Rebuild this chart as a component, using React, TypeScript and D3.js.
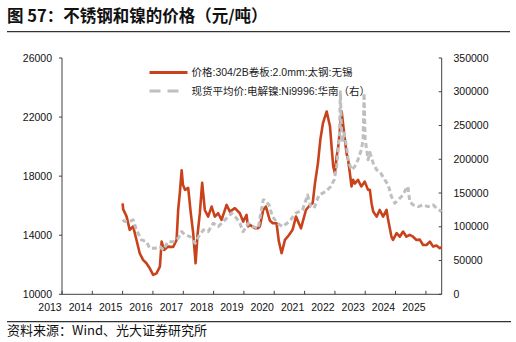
import React from "react";
import * as d3 from "d3";

// ---- data ----
const steelDates = [
  "2015-01-01","2015-01-08","2015-01-30","2015-02-18","2015-03-28","2015-05-08","2015-06-17","2015-07-26",
  "2015-09-04","2015-10-15","2015-11-24","2016-01-04","2016-02-13","2016-03-25","2016-04-15","2016-05-15",
  "2016-07-01","2016-09-01","2016-10-12","2016-10-31","2016-11-20","2016-12-12","2016-12-28","2017-01-23",
  "2017-03-01","2017-04-01","2017-04-30","2017-05-29","2017-06-21","2017-07-19","2017-08-16","2017-09-17",
  "2017-10-27","2017-12-08","2018-01-16","2018-02-25","2018-04-07","2018-06-06","2018-07-16","2018-09-14",
  "2018-11-13","2018-12-23","2019-02-02","2019-02-18","2019-03-14","2019-05-13","2019-06-18","2019-07-12",
  "2019-08-21","2019-09-23","2019-11-09","2019-12-15","2020-01-29","2020-02-26","2020-03-30","2020-05-09",
  "2020-06-25","2020-08-09","2020-09-19","2020-11-18","2021-01-17","2021-03-07","2021-04-08","2021-05-06",
  "2021-06-11","2021-07-10","2021-08-10","2021-09-24","2021-11-03","2021-11-23","2021-12-12","2022-01-01",
  "2022-01-22","2022-02-10","2022-03-03","2022-03-23","2022-04-22","2022-05-21","2022-06-09","2022-06-30",
  "2022-07-20","2022-08-08","2022-08-28","2022-10-06","2022-11-15","2022-12-26","2023-02-04","2023-02-26",
  "2023-03-18","2023-04-07","2023-05-18","2023-06-25","2023-08-04","2023-09-15","2023-10-04","2023-11-13",
  "2023-12-02","2024-01-14","2024-02-21","2024-04-01","2024-05-11","2024-06-20","2024-07-30","2024-09-09",
  "2024-10-19","2024-11-28","2025-01-08","2025-02-17","2025-03-29","2025-05-08","2025-06-17","2025-07-08"
];
const steelPrices = [
  16150,15750,15500,15260,14360,14600,13680,12780,
  12330,12100,11760,11310,11420,11870,13570,13000,
  13230,13200,13680,15710,16850,18400,17400,17070,
  17200,15490,14140,12100,14000,15490,17550,15710,
  15260,15940,15260,15490,15040,16050,15600,15830,
  15490,14920,15380,14600,14700,14470,14470,14600,
  15710,15940,15000,14810,14810,13570,12780,13680,
  14000,14370,15260,14470,15710,16050,16170,17530,
  18900,20500,21590,22380,21360,19900,18650,18200,
  19330,20000,21200,22380,20900,19560,19100,18200,
  17300,17750,17500,17750,17300,17630,17070,17070,
  16170,15600,15260,15710,15260,15710,15040,13900,
  13680,14140,13900,14250,13900,14020,13900,13680,
  13700,13340,13340,13570,13230,13300,13120,13200
];

const nickelDates = [
  "2015-01-01","2015-01-30","2015-03-28","2015-05-08","2015-06-17","2015-08-15","2015-10-15","2015-11-24",
  "2016-01-23","2016-03-25","2016-05-05","2016-07-01","2016-09-01","2016-10-31","2016-12-12","2017-01-23",
  "2017-03-25","2017-05-24","2017-07-03","2017-09-01","2017-10-27","2017-12-28","2018-02-25","2018-04-27",
  "2018-06-26","2018-08-05","2018-10-04","2018-11-13","2018-12-23","2019-02-22","2019-04-23","2019-06-22",
  "2019-08-21","2019-09-01","2019-10-31","2019-12-11","2020-02-09","2020-04-10","2020-06-29","2020-09-18",
  "2020-12-07","2021-01-17","2021-02-06","2021-03-16","2021-04-25","2021-06-24","2021-09-12","2021-11-12",
  "2021-12-23","2022-01-22","2022-02-10","2022-02-25","2022-03-08","2022-03-18","2022-03-28","2022-04-22",
  "2022-05-21","2022-06-09","2022-07-20","2022-08-28","2022-10-06","2022-11-15","2022-12-06","2022-12-18",
  "2022-12-31","2023-02-04","2023-02-26","2023-04-07","2023-05-18","2023-06-25","2023-08-25","2023-10-04",
  "2023-11-13","2023-12-24","2024-02-02","2024-04-01","2024-05-11","2024-05-29","2024-06-20","2024-07-30",
  "2024-09-30","2024-11-28","2025-01-28","2025-03-29","2025-05-08","2025-07-08"
];
const nickelPrices = [
  110200,107700,107700,110200,95400,80600,78000,68200,
  68200,70600,65700,78000,78000,83000,92800,87900,
  85400,75600,85400,95400,92800,105300,100300,107700,
  115100,120100,112600,105300,92800,105300,100300,97800,
  139800,139800,132400,115100,105300,100300,107700,120100,
  125000,139800,147300,129900,127500,147300,152200,159600,
  169500,189000,215000,240000,300000,255000,225000,238800,
  218900,199200,184300,189200,199200,214000,228800,298000,
  230000,199200,210000,194300,184300,181800,169500,162100,
  144700,134900,139800,147300,157200,159600,137300,132400,
  129900,132400,129900,132400,127500,122500
];

const leftTicks = [10000, 14000, 18000, 22000, 26000];
const rightTicks = [0, 50000, 100000, 150000, 200000, 250000, 300000, 350000];
const yearTicks = [2013, 2014, 2015, 2016, 2017, 2018, 2019, 2020, 2021, 2022, 2023, 2024, 2025];

const legendLabels = ["价格:304/2B卷板:2.0mm:太钢:无锡", "现货平均价:电解镍:Ni9996:华南（右）"];
const titleText = "图 57：不锈钢和镍的价格（元/吨）";
const sourceText = "资料来源：Wind、光大证券研究所";

const W = 516, H = 342;
const plot = { left: 62, right: 441.7, top: 58, bottom: 294.3 };
const RED = "#C8421C";
const GRAY = "#BFBFBF";
const AXIS = "#404040";
const FONT = "'Liberation Sans', Arial, 'Noto Sans CJK SC', sans-serif";
const CJK = "'Noto Sans CJK SC', 'Liberation Sans', sans-serif";

export default function App() {
  const parse = d3.timeParse("%Y-%m-%d");
  const x = d3.scaleTime()
    .domain([new Date(2013, 0, 1), new Date(2025, 6, 10)])
    .range([plot.left, plot.right]);
  const yL = d3.scaleLinear().domain([10000, 26000]).range([plot.bottom, plot.top]);
  const yR = d3.scaleLinear().domain([0, 350000]).range([plot.bottom, plot.top]);

  const steel = steelDates.map((d, i) => ({ d: parse(d) as Date, v: steelPrices[i] }));
  const nickel = nickelDates.map((d, i) => ({ d: parse(d) as Date, v: nickelPrices[i] }));

  const steelLine = d3.line<{ d: Date; v: number }>().x(p => x(p.d)).y(p => yL(p.v))(steel) || "";
  const nickelLine = d3.line<{ d: Date; v: number }>().x(p => x(p.d)).y(p => yR(p.v))(nickel) || "";

  return (
    <svg width={W} height={H} style={{ position: "absolute", left: 0, top: 0, background: "#fff" }}>
      <text x={7} y={21.5} fontFamily={CJK} fontWeight="bold" fontSize={16.5} fill="#111">{titleText}</text>
      <line x1={7} x2={510} y1={31.7} y2={31.7} stroke="#333" strokeWidth={1.3} />

      {/* axes */}
      <line x1={plot.left} x2={plot.left} y1={plot.top} y2={plot.bottom} stroke={AXIS} strokeWidth={1} />
      <line x1={plot.right} x2={plot.right} y1={plot.top} y2={plot.bottom} stroke={AXIS} strokeWidth={1} />
      <line x1={plot.left} x2={plot.right} y1={plot.bottom} y2={plot.bottom} stroke={AXIS} strokeWidth={1} />

      {leftTicks.map(t => (
        <g key={"l" + t}>
          <line x1={plot.left - 3} x2={plot.left} y1={yL(t)} y2={yL(t)} stroke={AXIS} />
          <text x={52} y={yL(t)} dy="0.35em" textAnchor="end" fontFamily={FONT} fontSize={10.5} fill="#111">{t}</text>
        </g>
      ))}
      {rightTicks.map(t => (
        <g key={"r" + t}>
          <line x1={plot.right - 3} x2={plot.right} y1={yR(t)} y2={yR(t)} stroke={AXIS} />
          <text x={453.5} y={yR(t)} dy="0.35em" textAnchor="start" fontFamily={FONT} fontSize={10.5} fill="#111">{t}</text>
        </g>
      ))}
      {yearTicks.map(yv => {
        const xx = x(new Date(yv, 0, 1));
        return (
          <g key={"x" + yv}>
            <line x1={xx} x2={xx} y1={plot.bottom - 3.5} y2={plot.bottom} stroke={AXIS} />
            <text x={xx - 12} y={310.5} textAnchor="middle" fontFamily={FONT} fontSize={10.5} fill="#111">{yv}</text>
          </g>
        );
      })}

      {/* series */}
      <path d={steelLine} fill="none" stroke={RED} strokeWidth={2.6} strokeLinejoin="round" />
      <path d={nickelLine} fill="none" stroke={GRAY} strokeWidth={3} strokeDasharray="5,3" strokeLinejoin="round" />

      {/* legend */}
      <line x1={149.5} x2={187.5} y1={72.5} y2={72.5} stroke={RED} strokeWidth={3} />
      <text x={191.5} y={72.5} dy="0.35em" fontFamily={FONT} fontSize={10.5} fill="#222">{legendLabels[0]}</text>
      <line x1={149.5} x2={181} y1={91} y2={91} stroke={GRAY} strokeWidth={3} strokeDasharray="11,7" />
      <text x={191.5} y={91} dy="0.35em" fontFamily={FONT} fontSize={10.5} fill="#222">{legendLabels[1]}</text>

      <line x1={7} x2={511} y1={321.7} y2={321.7} stroke="#333" strokeWidth={1.2} />
      <text x={7} y={335} fontFamily={CJK} fontSize={13} fill="#111">{sourceText}</text>
    </svg>
  );
}
